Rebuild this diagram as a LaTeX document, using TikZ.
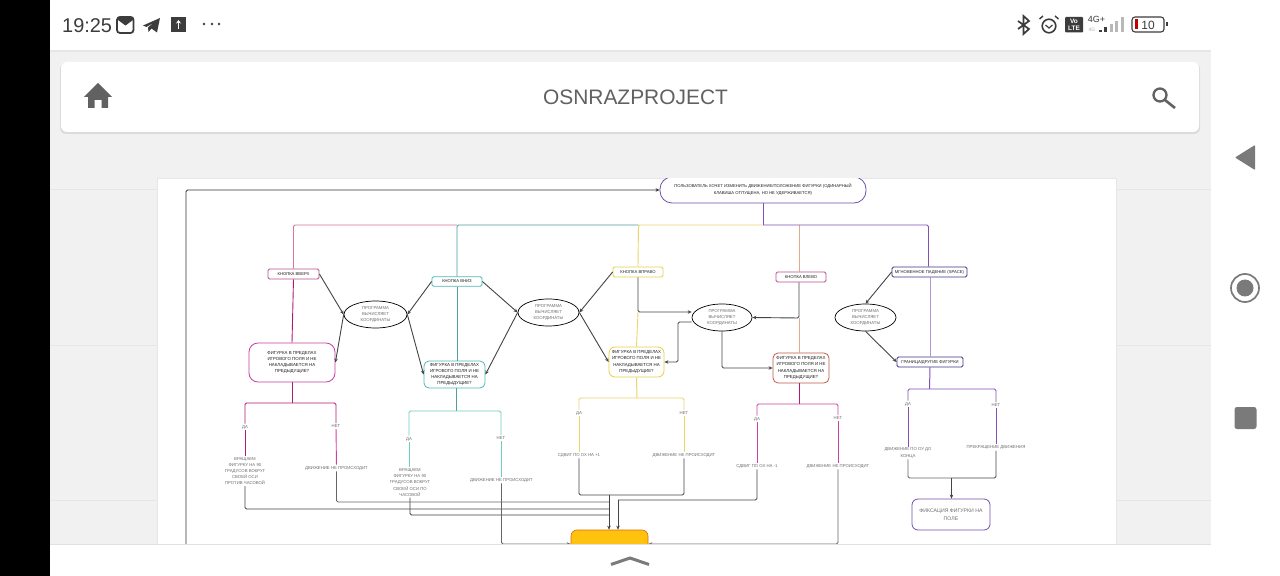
\documentclass[tikz,border=0pt]{standalone}
\usepackage{fontspec}
\setmainfont{Liberation Sans}
\usepackage{xcolor}
\usetikzlibrary{arrows.meta}
\usetikzlibrary{shapes.geometric}
\definecolor{screenColor}{HTML}{F1F1F1}
\definecolor{seamColor}{HTML}{E6E6E6}
\definecolor{iconColor}{HTML}{616161}
\definecolor{navColor}{HTML}{7A7A7A}
\definecolor{statusColor}{HTML}{3C3C3C}
\definecolor{arrowColor}{HTML}{444444}
\definecolor{linkColorA}{HTML}{D9769B}
\definecolor{linkColorB}{HTML}{4F9FA3}
\definecolor{linkColorC}{HTML}{E9D66B}
\definecolor{linkColorD}{HTML}{E2A98C}
\definecolor{linkColorE}{HTML}{8450B8}
\definecolor{linkColorF}{HTML}{B01C74}
\definecolor{linkColorG}{HTML}{6FCDBD}
\definecolor{linkColorH}{HTML}{D040A4}
\definecolor{borderColorA}{HTML}{B4508F}
\definecolor{borderColorB}{HTML}{C83EA6}
\definecolor{borderColorC}{HTML}{4FB8B8}
\definecolor{borderColorD}{HTML}{E6CF45}
\definecolor{borderColorE}{HTML}{C05A48}
\definecolor{borderColorF}{HTML}{3D3488}
\definecolor{borderColorG}{HTML}{7050A8}
\definecolor{labelTextColorA}{HTML}{1E1E1E}
\definecolor{labelTextColorB}{HTML}{6E6E6E}
\definecolor{endFillColor}{HTML}{FFC20E}
\def\textAsk{ПОЛЬЗОВАТЕЛЬ ХОЧЕТ ИЗМЕНИТЬ ДВИЖЕНИЕ/ПОЛОЖЕНИЕ ФИГУРКИ (ОДИНАРНЫЙ\\КЛАВИША ОТПУЩЕНА, НО НЕ УДЕРЖИВАЕТСЯ)}
\def\textCalc{ПРОГРАММА\\ВЫЧИСЛЯЕТ\\КООРДИНАТЫ}
\def\textCheck{ФИГУРКА В ПРЕДЕЛАХ\\ИГРОВОГО ПОЛЯ И НЕ\\НАКЛАДЫВАЕТСЯ НА\\ПРЕДЫДУЩИЕ?}
\def\textStill{ДВИЖЕНИЕ НЕ ПРОИСХОДИТ}
\tikzset{
  keyBox/.style={draw, fill=white, rounded corners=1.5bp, line width=.8bp, inner sep=0pt,
    text=labelTextColorA, font=\fontsize{4.2}{5}\selectfont, anchor=center},
  calcEllipse/.style={draw=black, fill=white, ellipse, line width=.7bp, inner sep=0pt,
    text=labelTextColorB, align=center, font=\fontsize{4.3}{6.3}\selectfont},
  checkBox/.style={draw, fill=white, rounded corners=5bp, line width=.8bp, inner sep=0pt,
    text=labelTextColorA, align=center, font=\fontsize{4.4}{6.3}\selectfont},
  answerText/.style={inner sep=1.2bp, text=labelTextColorB, align=center,
    font=\fontsize{4.3}{6.2}\selectfont},
  linkPlain/.style={line width=.9bp, rounded corners=1.5bp},
  linkDark/.style={linkPlain, draw=arrowColor},
  linkArrow/.style={linkDark, -{Stealth[length=4bp,width=3.5bp]}},
}

\begin{document}
\begin{tikzpicture}[x=1bp,y=-1bp]
\useasboundingbox (0, 0) rectangle (1280, 576);

% phone layer
\begin{scope}
\fill[white] (0, 0) rectangle (1280, 576);
\fill[screenColor] (50, 50) rectangle (1211, 545);
\fill[seamColor] (50, 50) rectangle (1211, 52);
\fill[seamColor] (50, 189.5) rectangle (1211, 190.5);
\fill[seamColor] (50, 344.5) rectangle (1211, 345.5);
\fill[seamColor] (50, 499.5) rectangle (1211, 500.5);
\fill[black] (0, 0) rectangle (50, 576);
\end{scope}

% top card
\begin{scope}
\fill[rounded corners=6bp, color=black!14] (60, 63) rectangle (1200, 134);
\fill[rounded corners=6bp, color=white] (61, 62) rectangle (1199, 132);
\node[text=iconColor, font=\fontsize{21}{21}\selectfont] (titleText) at (635.5, 97) {OSNRAZPROJECT};
\fill[iconColor] (98, 83) -- (112, 97) -- (108, 97) -- (108, 108) -- (101.5, 108) -- (101.5, 100)
-- (94.5, 100) -- (94.5, 108) -- (88, 108) -- (88, 97) -- (84, 97) -- cycle;
\draw[iconColor, line width=2.3bp] (1160, 95) circle (6.5);
\draw[iconColor, line width=2.6bp] (1165, 100) -- (1175, 108);
\end{scope}

% status layer
\begin{scope}
\node[text=statusColor, anchor=west, inner sep=0pt, font=\fontsize{20}{20}\selectfont] (clockText) at (62, 25.5) {19:25};
\draw[statusColor, line width=1.8bp, rounded corners=3bp] (117, 17) rectangle (133.5, 33);
\fill[statusColor] (118, 17) -- (133, 17) -- (133, 20) -- (125.5, 25.5) -- (118, 20) -- cycle;
\fill[statusColor] (143, 25.5) -- (160, 18) -- (157, 32.5) -- (151.5, 28.5) -- (148.5, 32) -- (148, 27.5) -- (154, 22.5) -- (146.5, 27) -- cycle;
\fill[statusColor] (171, 17) rectangle (186, 32);
\draw[white, line width=1.2bp, -{Stealth[length=3.5bp,width=5bp]}] (178.5, 29) -- (178.5, 20);
\foreach \dotX in {204, 212, 219}
\fill[statusColor] (\dotX, 24) circle (1.3);
\draw[statusColor, line width=1.7bp] (1018, 21) -- (1029, 29) -- (1023.5, 34) -- (1023.5, 16) -- (1029, 21) -- (1018, 29);
\draw[statusColor, line width=1.6bp] (1049, 26) circle (6.8);
\draw[statusColor, line width=1.4bp] (1039.5, 19) -- (1043, 16);
\draw[statusColor, line width=1.4bp] (1058.5, 19) -- (1055, 16);
\draw[statusColor, line width=1.2bp] (1045.5, 25) -- (1049, 28) -- (1052.5, 25);
\fill[statusColor, rounded corners=1bp] (1065, 17) rectangle (1083, 32.5);
\node[text=white, align=center, inner sep=0pt, font=\bfseries\fontsize{6.5}{7}\selectfont] (volteText) at (1074, 25) {Vo\\LTE};
\node[text=statusColor, inner sep=0pt, font=\fontsize{9}{9}\selectfont] (netText) at (1096.5, 19.5) {4G+};
\node[text=black!30, inner sep=0pt, font=\fontsize{5}{5}\selectfont] (netSmallText) at (1092, 29.5) {4G};
\fill[statusColor] (1099, 30) rectangle (1102, 32.5);
\fill[statusColor] (1104, 27.5) rectangle (1107, 32.5);
\fill[black!28] (1109.5, 24) rectangle (1112.5, 32.5);
\fill[black!28] (1115, 21) rectangle (1118, 32.5);
\fill[black!28] (1120.5, 17) rectangle (1123.5, 32.5);
\draw[statusColor, line width=1.1bp, rounded corners=3bp] (1132, 17) rectangle (1164, 32);
\fill[red!75!black] (1135, 19.5) rectangle (1137.5, 29.5);
\fill[statusColor] (1165.5, 22.5) rectangle (1167.5, 26.5);
\node[text=statusColor, inner sep=0pt, font=\fontsize{12}{12}\selectfont] (batteryText) at (1148, 25) {10};
\end{scope}

% right buttons
\begin{scope}
\fill[navColor, rounded corners=.8bp] (1235, 157.5) -- (1255, 145) -- (1255, 170) -- cycle;
\draw[navColor, line width=1.7bp] (1245, 288) circle (14);
\fill[navColor] (1245, 288) circle (8.5);
\fill[navColor, rounded corners=2.5bp] (1234.5, 407) rectangle (1256.5, 429);
\end{scope}

% sheet
\begin{scope}
\fill[seamColor] (157, 178) rectangle (1117, 545);
\fill[white] (158, 179) rectangle (1116, 545);
\end{scope}

% main layer
\begin{scope}
\clip (158, 179) rectangle (1116, 545);

% node layer
\node[checkBox, draw=borderColorG, rounded corners=12bp, minimum width=206bp, minimum height=26bp,
text=labelTextColorA, font=\fontsize{4.2}{7}\selectfont] (askBox) at (763, 190) {\textAsk};

\node[keyBox, draw=borderColorA, minimum width=51bp, minimum height=10bp] (keyUp) at (293.5, 274) {КНОПКА ВВЕРХ};
\node[keyBox, draw=borderColorC, minimum width=50bp, minimum height=9.5bp] (keyDown) at (457, 281.5) {КНОПКА ВНИЗ};
\node[keyBox, draw=borderColorD, minimum width=50bp, minimum height=10bp] (keyRight) at (638, 272) {КНОПКА ВПРАВО};
\node[keyBox, draw=borderColorA, minimum width=50bp, minimum height=10bp] (keyLeft) at (801, 277) {КНОПКА ВЛЕВО};
\node[keyBox, draw=borderColorF, minimum width=75bp, minimum height=10bp] (keyDrop) at (929.5, 272) {МГНОВЕННОЕ ПАДЕНИЕ (SPACE)};
\node[keyBox, draw=borderColorF, minimum width=66bp, minimum height=10bp] (edgeBox) at (930, 362) {ГРАНИЦА/ДРУГИЕ ФИГУРКИ};

\node[calcEllipse, minimum width=63bp, minimum height=27bp] (calcA) at (375.5, 314.5) {\textCalc};
\node[calcEllipse, minimum width=61bp, minimum height=27bp] (calcB) at (548.5, 312.5) {\textCalc};
\node[calcEllipse, minimum width=60bp, minimum height=27bp] (calcC) at (722, 317.5) {\textCalc};
\node[calcEllipse, minimum width=61bp, minimum height=27bp] (calcD) at (865.5, 317.5) {\textCalc};

\node[checkBox, draw=borderColorB, rounded corners=9bp, minimum width=86bp, minimum height=39bp] (checkA) at (292, 362.5) {\textCheck};
\node[checkBox, draw=borderColorC, minimum width=61bp, minimum height=27bp] (checkB) at (454.5, 374.5) {\textCheck};
\node[checkBox, draw=borderColorD, rounded corners=6bp, minimum width=55bp, minimum height=30bp] (checkC) at (636.5, 362) {\textCheck};
\node[checkBox, draw=borderColorE, minimum width=56bp, minimum height=30bp] (checkD) at (801, 368) {\textCheck};

\node[answerText] (yesA) at (245, 427) {ДА};
\node[answerText] (noA) at (336, 426) {НЕТ};
\node[answerText] (doA) at (245, 471) {ВРАЩАЕМ\\ФИГУРКУ НА 90\\ГРАДУСОВ ВОКРУГ\\СВОЕЙ ОСИ\\ПРОТИВ ЧАСОВОЙ};
\node[answerText] (stillA) at (336.5, 468) {\textStill};
\node[answerText] (yesB) at (409, 439) {ДА};
\node[answerText] (noB) at (501, 438) {НЕТ};
\node[answerText] (doB) at (410, 482.5) {ВРАЩАЕМ\\ФИГУРКУ НА 90\\ГРАДУСОВ ВОКРУГ\\СВОЕЙ ОСИ ПО\\ЧАСОВОЙ};
\node[answerText] (stillB) at (501.5, 480) {\textStill};
\node[answerText] (yesC) at (579, 413) {ДА};
\node[answerText] (noC) at (684, 413) {НЕТ};
\node[answerText] (doC) at (579, 455) {СДВИГ ПО ОХ НА +1};
\node[answerText] (stillC) at (684, 455) {\textStill};
\node[answerText] (yesD) at (757, 419) {ДА};
\node[answerText] (noD) at (838, 418) {НЕТ};
\node[answerText] (doD) at (757, 466) {СДВИГ ПО ОХ НА -1};
\node[answerText] (stillD) at (838, 466) {\textStill};
\node[answerText] (yesE) at (908, 404) {ДА};
\node[answerText] (noE) at (996, 405) {НЕТ};
\node[answerText] (doE) at (908, 453) {ДВИЖЕНИЕ ПО ОУ ДО\\КОНЦА};
\node[answerText] (stopE) at (996, 447.5) {ПРЕКРАЩЕНИЕ ДВИЖЕНИЯ};

\node[checkBox, draw=borderColorG, rounded corners=6bp, minimum width=78bp, minimum height=31bp,
text=labelTextColorB, font=\fontsize{5.2}{8}\selectfont] (fixBox) at (951, 514.5) {ФИКСАЦИЯ ФИГУРКИ НА\\ПОЛЕ};
\node[draw=orange!85!black, fill=endFillColor, rounded corners=6bp, line width=.6bp,
minimum width=77bp, minimum height=28bp, inner sep=0pt] (endBox) at (609.5, 544) {};

% coordinate layer
\coordinate (busLeft) at (293.5, 225);
\coordinate (busDown) at (457, 225);
\coordinate (busRight) at (638.5, 225);
\coordinate (busMid) at (763, 225);
\coordinate (busBack) at (799, 225);
\coordinate (busDrop) at (928.5, 225);
\coordinate (splitA) at (292, 403);
\coordinate (splitAL) at (245, 403);
\coordinate (splitAR) at (336, 403);
\coordinate (splitB) at (456.5, 411);
\coordinate (splitBL) at (409, 411);
\coordinate (splitBR) at (501, 411);
\coordinate (splitC) at (637, 398);
\coordinate (splitCL) at (579, 398);
\coordinate (splitCR) at (684, 398);
\coordinate (splitD) at (799, 404);
\coordinate (splitDL) at (757, 404);
\coordinate (splitDR) at (838, 404);
\coordinate (splitE) at (929.5, 389);
\coordinate (splitEL) at (908, 389);
\coordinate (splitER) at (996, 389);
\coordinate (joinA) at (609, 509);
\coordinate (joinB) at (609, 515);
\coordinate (joinC) at (609, 495);
\coordinate (joinD) at (609, 502);
\coordinate (joinE) at (618, 500);
\coordinate (joinF) at (951.5, 478);
\coordinate (elbowRight) at (638, 312);
\coordinate (elbowLeft) at (799, 318);
\coordinate (elbowBack) at (678, 322);
\coordinate (backTurn) at (186, 556);
\coordinate (backCorner) at (186, 190);

% link layer
\begin{scope}
\draw[linkPlain, draw=linkColorE, line width=1bp] (askBox.south) -- (busMid);
\draw[linkPlain, draw=linkColorA] (busDown) -- (busLeft) -- (keyUp.north);
\draw[linkPlain, draw=linkColorB] (busRight) -- (busDown) -- (keyDown.north);
\draw[linkPlain, draw=linkColorC] (busMid) -- (busRight) -- (keyRight.north);
\draw[linkPlain, draw=linkColorD] (busBack) -- (keyLeft.north -| busBack);
\draw[linkPlain, draw=linkColorE] (busMid) -- (busDrop) -- (keyDrop.north -| busDrop);

\draw[linkPlain, draw=linkColorF] (keyUp.south) -- (checkA.north);
\draw[linkPlain, draw=linkColorB] (keyDown.south) -- (checkB.north -| keyDown.south);
\draw[linkPlain, draw=linkColorC] (elbowRight) -- (checkC.north);
\draw[linkPlain, draw=linkColorD] (elbowLeft) -- (checkD.north -| elbowLeft);
\draw[linkPlain, draw=linkColorE!60] (keyDrop.south -| edgeBox.north) -- (edgeBox.north);

\draw[linkPlain, draw=linkColorF, line width=1bp] (checkA.south) -- (splitA);
\draw[linkPlain, draw=linkColorB] (checkB.south -| splitB) -- (splitB);
\draw[linkPlain, draw=linkColorC, line width=1bp] (checkC.south) -- (splitC);
\draw[linkPlain, draw=linkColorF] (checkD.south -| splitD) -- (splitD);
\draw[linkPlain, draw=linkColorE, line width=1bp] (edgeBox.south) -- (splitE);

\draw[linkPlain, draw=linkColorF] (yesA) -- (splitAL) -- (splitAR) -- (noA);
\draw[linkPlain, draw=linkColorF] (yesA) -- (doA);
\draw[linkPlain, draw=linkColorH] (noA) -- (stillA);
\draw[linkPlain, draw=linkColorG] (yesB) -- (splitBL) -- (splitBR) -- (noB);
\draw[linkPlain, draw=linkColorG] (yesB) -- (yesB |- doB.north);
\draw[linkPlain, draw=linkColorG] (noB) -- (noB |- stillB.north);
\draw[linkPlain, draw=linkColorC] (yesC) -- (splitCL) -- (splitCR) -- (noC);
\draw[linkPlain, draw=linkColorC] (yesC) -- (doC);
\draw[linkPlain, draw=linkColorC] (noC) -- (stillC);
\draw[linkPlain, draw=linkColorH] (yesD) -- (splitDL) -- (splitDR) -- (noD);
\draw[linkPlain, draw=linkColorH] (yesD) -- (doD);
\draw[linkPlain, draw=linkColorH] (noD) -- (stillD);
\draw[linkPlain, draw=linkColorE] (yesE) -- (splitEL) -- (splitER) -- (noE);
\draw[linkPlain, draw=linkColorE] (yesE) -- (doE);
\draw[linkPlain, draw=linkColorE] (noE) -- (stopE);

\draw[linkDark] (doA.south) |- (joinA);
\draw[linkDark, draw=black!75] (doB.south) |- (joinB);
\draw[linkDark] (doC.south) |- (joinC);
\draw[linkDark] (stillC.south) |- (joinC);
\draw[linkDark, draw=black!60] (stillA.south) |- (joinD);
\draw[linkDark] (doD.south) |- (joinE);
\draw[linkDark, draw=black!60] (doE.south) |- (joinF);
\draw[linkDark] (stopE.south) |- (joinF);

\draw[linkArrow] (joinC) -- (endBox.north -| joinC);
\draw[linkArrow] (joinE) -- (endBox.north -| joinE);
\draw[linkArrow, draw=black!60] (stillB.south) |- (endBox.west);
\draw[linkArrow, draw=black!60] (stillD.south) |- (endBox.east);
\draw[linkArrow] (joinF) -- (fixBox.north -| joinF);
\draw[linkArrow, draw=black!80] (endBox.south) |- (backTurn) -- (backCorner) -- (askBox.west);
\end{scope}

% arrow layer
\begin{scope}
\draw[linkArrow] (keyUp.east) -- (calcA.west);
\draw[linkArrow] (calcA.west) -- (checkA.east);
\draw[linkArrow] (keyDown.west) -- (calcA.east);
\draw[linkArrow] (calcA.east) -- (checkB.west);
\draw[linkArrow] (keyDown.east) -- (calcB.west);
\draw[linkArrow] (calcB.west) -- (checkB.east);
\draw[linkArrow] (keyRight.west) -- (calcB.east);
\draw[linkArrow] (calcB.east) -- (checkC.west);
\draw[linkArrow] (keyRight.south) -- (elbowRight) -- (calcC.west |- elbowRight);
\draw[linkArrow] (calcC.west |- elbowBack) -- (elbowBack) |- (checkC.east);
\draw[linkArrow] (keyLeft.south -| elbowLeft) -- (elbowLeft) -- (calcC.east);
\draw[linkArrow] (calcC.south) |- (checkD.west);
\draw[linkArrow] (keyDrop.west) -- (calcD.north);
\draw[linkArrow] (calcD.south) -- (edgeBox.west);
\end{scope}
\end{scope}

% bottom bar
\begin{scope}
\fill[black!12] (50, 543.5) rectangle (1211, 545);
\fill[white] (50, 545) rectangle (1211, 576);
\draw[navColor, line width=3bp] (611, 564.5) -- (630, 558) -- (649, 564.5);
\end{scope}
\end{tikzpicture}
\end{document}
